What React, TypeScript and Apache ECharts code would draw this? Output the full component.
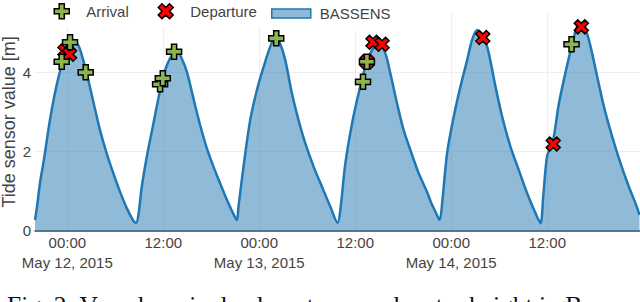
import React, { useEffect, useRef } from "react";
import * as echarts from "echarts";

// Tide sensor (BASSENS): hours since May 12, 2015 00:00 and water height [m]
const tideHours = [
  -4.04, -3.79, -3.42, -2.92, -2.17, -1.33, -0.5, 0.34, 1.09, 1.59, 2.43, 3.25, 4.09, 4.93, 5.76, 6.6, 7.43, 8.27, 8.6,
  8.89, 9.31, 9.94, 10.77, 11.6, 12.44, 13.27, 13.77, 14.3, 14.94, 15.77, 16.6, 17.45, 18.27, 19.1, 19.95, 20.77, 21.2,
  21.4, 22.03, 22.87, 23.7, 24.53, 25.37, 26.0, 26.6, 27.25, 28.08, 28.9, 29.75, 30.79, 31.84, 32.88, 33.79,
  34.13, 34.76, 35.6, 36.42, 37.26, 38.1, 38.93, 39.76, 40.39, 41.22, 42.05, 42.89, 43.93, 44.98, 45.5, 46.02, 46.55,
  46.86, 47.48, 48.31, 49.15, 49.99, 50.61, 51.24, 52.07, 52.7, 53.53, 54.37, 55.41, 56.45, 57.5, 58.54, 59.16,
  59.5, 60.0, 60.7, 61.45, 62.29, 63.12, 63.95, 64.79, 65.42, 66.25, 67.08, 68.13, 69.17, 70.21, 71.04, 71.54,
];
const tideValues = [
  0.27, 0.6, 1.2, 1.8, 2.8, 3.68, 4.31, 4.66, 4.75, 4.58, 3.97, 3.26, 2.54, 1.95, 1.45, 0.98, 0.57, 0.25, 0.2,
  0.4, 1.11, 1.87, 2.71, 3.55, 4.18, 4.48, 4.52, 4.35, 4.02, 3.34, 2.67, 2.08, 1.62, 1.2, 0.78, 0.42, 0.27,
  0.61, 1.62, 2.8, 3.55, 4.13, 4.65, 4.9, 4.73, 4.31, 3.47, 2.8, 2.21, 1.62, 1.11, 0.61, 0.2,
  0.52, 1.7, 2.71, 3.47, 4.14, 4.56, 4.73, 4.48, 3.97, 3.22, 2.54, 2.04, 1.45, 0.98, 0.7, 0.48, 0.27,
  0.69, 1.95, 2.88, 3.64, 4.31, 4.82, 5.07, 4.9, 4.48, 3.64, 2.88, 2.12, 1.53, 0.94, 0.44, 0.19,
  0.86, 1.9, 2.25, 3.2, 4.0, 4.7, 5.19, 5.07, 4.65, 3.89, 3.14, 2.37, 1.7, 1.11, 0.69, 0.4,
];

const arrivalHours = [-0.7, 2.3, 0.34, 11.6, 11.94, 13.35, 26.12, 36.97, 37.46, 63.04];
const arrivalValues = [4.27, 4.0, 4.76, 3.7, 3.85, 4.52, 4.86, 3.76, 4.27, 4.71];

const departureHours = [-0.29, 0.28, 37.46, 38.22, 39.35, 51.94, 60.75, 64.26];
const departureValues = [4.54, 4.46, 4.27, 4.76, 4.71, 4.88, 2.19, 5.15];

const xTickHours = [0, 12, 24, 36, 48, 60];
const xTickTimes = ["00:00", "12:00", "00:00", "12:00", "00:00", "12:00"];
const xTickDates = ["May 12, 2015", "", "May 13, 2015", "", "May 14, 2015", ""];
const yTickValues = [0, 2, 4];

const caption = "Fig. 2: Vessels arrivals, departures and water height in Bassens";

const plusPath = "path://M3.3,0H6.7V3.3H10V6.7H6.7V10H3.3V6.7H0V3.3H3.3Z";
const xPath = "path://M0,2.5L2.5,0L5,2.5L7.5,0L10,2.5L7.5,5L10,7.5L7.5,10L5,7.5L2.5,10L0,7.5L2.5,5Z";

const FONT = '"Liberation Sans", Arial, sans-serif';
const GREEN = "#8db54f";
const RED = "#ff0000";

export default function App() {
  const ref = useRef<HTMLDivElement>(null);
  useEffect(() => {
    if (!ref.current) return;
    const chart = echarts.init(ref.current, null, { renderer: "svg" });
    const zip = (a: number[], b: number[]) => a.map((v, i) => [v, b[i]]);
    const legendBase = {
      top: 0,
      orient: "horizontal",
      selectedMode: false,
      backgroundColor: "#fff",
      padding: [3, 5, 7, 5],
    };
    chart.setOption({
      animation: false,
      textStyle: { fontFamily: FONT },
      grid: { left: 35, right: 0, top: 13, bottom: 71.3, containLabel: false, outerBoundsMode: "none" },
      legend: [
        {
          ...legendBase,
          left: 48.5,
          itemWidth: 15,
          itemHeight: 15,
          textStyle: { color: "#444", fontSize: 15, fontFamily: FONT, padding: [0, 0, 0, 12] },
          data: [
            { name: "Arrival", icon: plusPath, itemStyle: { color: GREEN, borderColor: "#000", borderWidth: 1.5 } },
          ],
        },
        {
          ...legendBase,
          left: 152.5,
          itemWidth: 15,
          itemHeight: 15,
          textStyle: { color: "#444", fontSize: 15, fontFamily: FONT, padding: [0, 0, 0, 12] },
          data: [
            { name: "Departure", icon: xPath, itemStyle: { color: RED, borderColor: "#000", borderWidth: 1.5 } },
          ],
        },
        {
          ...legendBase,
          left: 266,
          itemWidth: 39,
          itemHeight: 9,
          padding: [6, 5, 10, 5],
          textStyle: { color: "#444", fontSize: 15, fontFamily: FONT, padding: [0, 0, 0, 4] },
          data: [
            {
              name: "BASSENS",
              icon: "rect",
              itemStyle: { color: "rgba(31,119,180,0.5)", borderColor: "#1f77b4", borderWidth: 1.5 },
            },
          ],
        },
      ],
      xAxis: {
        type: "value",
        min: -4.04,
        max: 71.6,
        axisLine: { show: true, lineStyle: { color: "#444", width: 1.5 } },
        axisTick: { show: false, customValues: xTickHours },
        splitLine: { show: true, lineStyle: { color: "#eee", width: 1 } },
        axisLabel: {
          customValues: xTickHours,
          color: "#444",
          fontSize: 15,
          fontFamily: FONT,
          lineHeight: 20,
          margin: 2,
          formatter: (v: number) => {
            const i = xTickHours.indexOf(Math.round(v));
            if (i < 0) return "";
            return xTickDates[i] ? xTickTimes[i] + "\n" + xTickDates[i] : xTickTimes[i];
          },
        },
      },
      yAxis: {
        type: "value",
        min: 0,
        max: 5.5,
        name: "Tide sensor value [m]",
        nameLocation: "middle",
        nameGap: 17,
        nameMoveOverlap: false,
        nameTextStyle: { color: "#444", fontSize: 18, fontFamily: FONT },
        axisLine: { show: false },
        axisTick: { show: false, customValues: yTickValues },
        splitLine: { show: true, lineStyle: { color: "#eee", width: 1 } },
        axisLabel: { customValues: yTickValues, color: "#444", fontSize: 15, fontFamily: FONT, margin: 4 },
      },
      series: [
        {
          name: "BASSENS",
          type: "line",
          data: zip(tideHours, tideValues),
          smooth: 0.3,
          showSymbol: false,
          lineStyle: { color: "#1f77b4", width: 2.5 },
          itemStyle: { color: "#1f77b4" },
          areaStyle: { color: "#1f77b4", opacity: 0.5 },
          z: 2,
        },
        {
          name: "Departure",
          type: "scatter",
          data: zip(departureHours, departureValues),
          symbol: xPath,
          symbolSize: 14,
          symbolKeepAspect: true,
          itemStyle: { color: RED, borderColor: "#000", borderWidth: 1.5, opacity: 1 },
          z: 3,
        },
        {
          name: "Arrival",
          type: "scatter",
          data: zip(arrivalHours, arrivalValues),
          symbol: plusPath,
          symbolSize: 15,
          symbolKeepAspect: true,
          itemStyle: { color: GREEN, borderColor: "#000", borderWidth: 1.5, opacity: 1 },
          z: 4,
        },
      ],
      graphic: [
        {
          type: "text",
          x: 7,
          y: 292,
          style: {
            text: caption,
            font: '25.5px "Liberation Serif", "Times New Roman", serif',
            fill: "#111",
            verticalAlign: "top",
          },
        },
      ],
    });
    return () => chart.dispose();
  }, []);
  return <div ref={ref} style={{ width: 640, height: 302, position: "absolute", left: 0, top: 0 }} />;
}
